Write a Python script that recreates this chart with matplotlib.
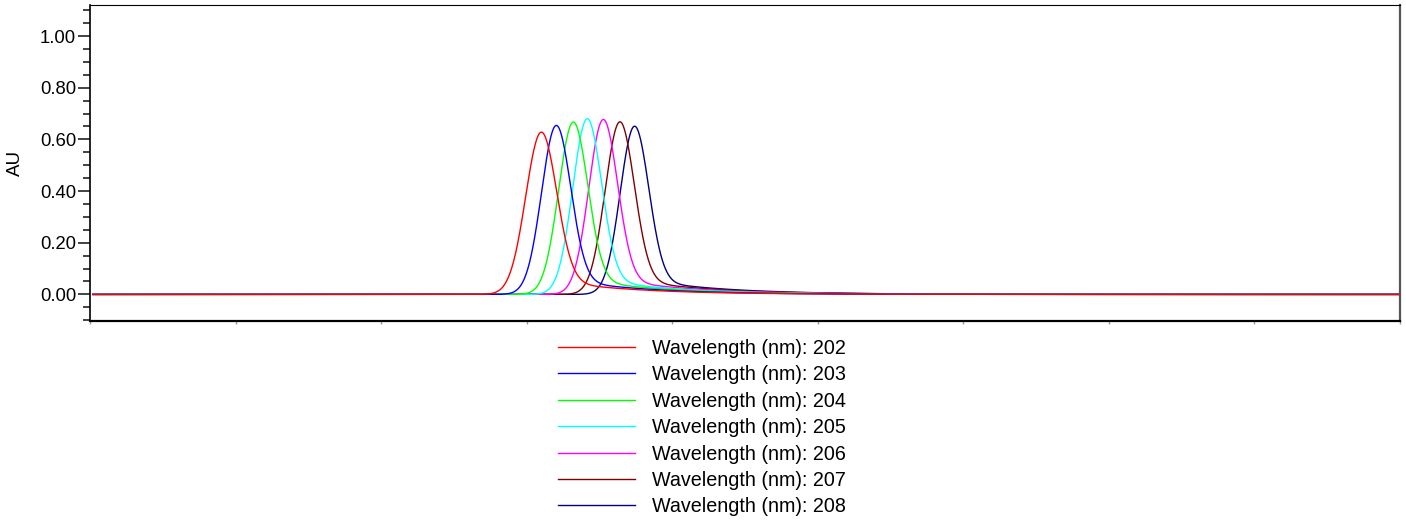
import numpy as np
import math
import matplotlib
matplotlib.use("Agg")
import matplotlib.pyplot as plt
from matplotlib.ticker import MultipleLocator, NullFormatter, FormatStrFormatter

# ---- data ----
labels = ["Wavelength (nm): 202", "Wavelength (nm): 203", "Wavelength (nm): 204",
          "Wavelength (nm): 205", "Wavelength (nm): 206", "Wavelength (nm): 207",
          "Wavelength (nm): 208"]
colors = ["#ff0000", "#0000ff", "#00ff00", "#00ffff", "#ff00ff", "#800000", "#000080"]
apex_pos = [3.098, 3.201, 3.318, 3.414, 3.524, 3.638, 3.739]      # retention (axis units)
apex_height = [0.628, 0.654, 0.667, 0.680, 0.677, 0.668, 0.651]   # AU
peak_sigma = [0.106, 0.100, 0.100, 0.099, 0.099, 0.100, 0.098]    # gaussian width
tail_amp = [0.10, 0.10, 0.10, 0.10, 0.10, 0.10, 0.10]             # relative tail amplitude
tail_tau = [0.55, 0.55, 0.55, 0.55, 0.55, 0.55, 0.55]             # tail decay
x_start, x_end = 0.02, 9.0
yticks = [0.0, 0.2, 0.4, 0.6, 0.8, 1.0]

erfc = np.vectorize(math.erfc)

def peak_shape(x, pos, h, s, a, tau):
    d = x - pos
    g = np.exp(-0.5 * (d / s) ** 2)
    tail = a * np.exp(-np.clip(d, -1.0, None) / tau) * 0.5 * erfc(-(d - 0.07) / (math.sqrt(2) * 0.09))
    y = g + tail
    return h * y / y.max()

x = np.linspace(x_start, x_end, 6000)

fig = plt.figure(figsize=(14.06, 5.21), dpi=100)
ax = fig.add_axes([90 / 1406, 1 - 320.5 / 521, 1310 / 1406, 316 / 521])

n = len(labels)
for i in range(n):
    y = peak_shape(x, apex_pos[i], apex_height[i], peak_sigma[i], tail_amp[i], tail_tau[i])
    ax.plot(x, y, color=colors[i], lw=1.0, label=labels[i], zorder=10 + (n - i))

ax.set_xlim(0, 9)
ax.set_ylim(-0.101, 1.122)

ax.set_yticks(yticks)
ax.yaxis.set_major_formatter(FormatStrFormatter("%.2f"))
ax.yaxis.set_minor_locator(MultipleLocator(0.05))
ax.tick_params(axis="y", which="major", length=8.5, width=1.2, pad=1.5,
               labelsize=13.3, color="#222222")
ax.tick_params(axis="y", which="minor", length=5, width=1.2, color="#222222")

ax.xaxis.set_major_locator(MultipleLocator(1))
ax.xaxis.set_major_formatter(NullFormatter())
ax.tick_params(axis="x", which="major", length=2, width=1.0, color="#999999")

ax.set_ylabel("AU", fontsize=13.5)
ax.yaxis.set_label_coords(-0.0504, 0.5)

for k, sp in ax.spines.items():
    sp.set_color("black")
ax.spines["left"].set_linewidth(1.2)
ax.spines["bottom"].set_linewidth(1.6)
ax.spines["top"].set_linewidth(0.8)
ax.spines["right"].set_linewidth(1.6)
ax.spines["right"].set_color("#555555")

leg = fig.legend(loc="upper left", bbox_to_anchor=(558 / 1406, 1 - 339 / 521),
                 frameon=False, fontsize=14.2, handlelength=3.9, handletextpad=0.88,
                 labelspacing=0.375, borderpad=0.0, borderaxespad=0.0)
for line in leg.get_lines():
    line.set_linewidth(1.0)

for t in fig.findobj(matplotlib.text.Text):
    t.set_fontfamily(["Liberation Sans", "DejaVu Sans"])

fig.savefig("out.png", dpi=100)
